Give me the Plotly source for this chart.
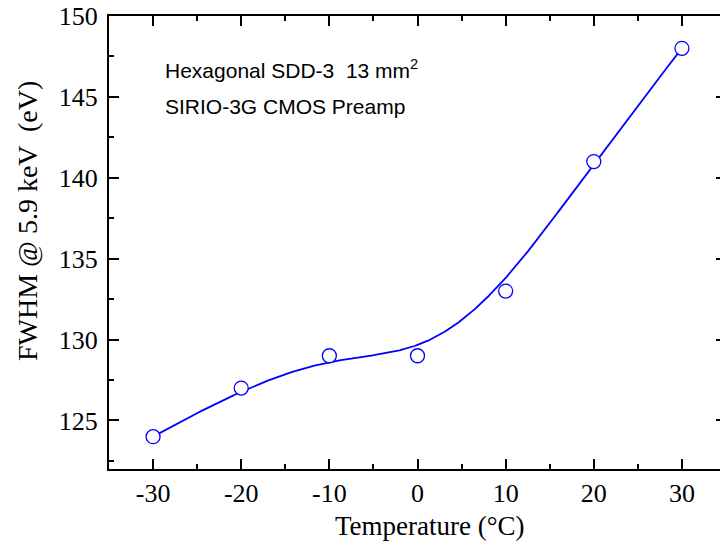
import numpy as np
import plotly.graph_objects as go

temperature = [-30, -20, -10, 0, 10, 20, 30]
fwhm = [124, 127, 129, 129, 133, 141, 148]
x_ticks = [-30, -20, -10, 0, 10, 20, 30]
y_ticks = [125, 130, 135, 140, 145, 150]


def bspline(px, py, n=400, k=3):
    P = np.column_stack([px, py]).astype(float)
    m = len(P)
    knots = np.concatenate([[0.0] * (k + 1), np.arange(1, m - k, dtype=float), [float(m - k)] * (k + 1)])
    t = np.linspace(0, m - k, n)
    t[-1] -= 1e-9

    def basis(i, p, tt):
        if p == 0:
            return np.where((knots[i] <= tt) & (tt < knots[i + 1]), 1.0, 0.0)
        out = np.zeros_like(tt)
        d1 = knots[i + p] - knots[i]
        d2 = knots[i + p + 1] - knots[i + 1]
        if d1 > 0:
            out += (tt - knots[i]) / d1 * basis(i, p - 1, tt)
        if d2 > 0:
            out += (knots[i + p + 1] - tt) / d2 * basis(i + 1, p - 1, tt)
        return out

    B = np.column_stack([basis(i, k, t) for i in range(m)])
    C = B @ P
    return C[:, 0], C[:, 1]


cx, cy = bspline(temperature, fwhm)

fig = go.Figure()
fig.add_trace(go.Scatter(x=cx, y=cy, mode="lines",
                         line=dict(color="#0000FF", width=1.8), showlegend=False,
                         hoverinfo="skip"))
fig.add_trace(go.Scatter(x=temperature, y=fwhm, mode="markers",
                         marker=dict(symbol="circle", size=14, color="white",
                                     line=dict(color="#0000FF", width=1.3)),
                         showlegend=False))

serif = "Liberation Serif, Times New Roman, serif"
tick_font = dict(family=serif, size=26, color="black")
sans = dict(family="Liberation Sans, Arial, sans-serif", size=21, color="black")

W, H = 726, 548
L, T, B = 109, 16, 79
PW, PH = W - L, H - T - B


def px(xp):
    return (xp - L) / PW


def py(yp):
    return (H - B - yp) / PH


fig.update_layout(
    width=W, height=H,
    margin=dict(l=L, r=0, t=T, b=B),
    plot_bgcolor="white", paper_bgcolor="white",
    font=tick_font,
    xaxis=dict(range=[-35, 35], tickvals=x_ticks, ticktext=[str(v) for v in x_ticks],
               showline=True, linecolor="black", linewidth=2, mirror="ticks",
               ticks="inside", ticklen=10, tickwidth=1.5, tickcolor="black",
               minor=dict(ticks="inside", ticklen=5, tickwidth=1.5, dtick=5, tick0=0, tickcolor="black"),
               showgrid=False, zeroline=False, automargin=False,
               tickfont=tick_font, ticklabelstandoff=0),
    yaxis=dict(range=[122, 150], tickvals=y_ticks, ticktext=[str(v) for v in y_ticks],
               showline=True, linecolor="black", linewidth=2, mirror="ticks",
               ticks="inside", ticklen=10, tickwidth=1.5, tickcolor="black",
               minor=dict(ticks="inside", ticklen=5, tickwidth=1.5, dtick=2.5, tick0=0, tickcolor="black"),
               showgrid=False, zeroline=False, automargin=False,
               tickfont=tick_font, ticklabelstandoff=4),
    annotations=[
        dict(text="Temperature (°C)", xref="paper", yref="paper",
             x=px(430), y=py(526), xanchor="center", yanchor="middle",
             showarrow=False, font=dict(family=serif, size=27, color="black")),
        dict(text="FWHM @ 5.9 keV  (eV)", xref="paper", yref="paper",
             x=px(27), y=py(221), xanchor="center", yanchor="middle", textangle=-90,
             showarrow=False, font=dict(family=serif, size=28, color="black")),
        dict(text="Hexagonal SDD-3  13 mm<sup>2</sup>", xref="paper", yref="paper",
             x=px(163), y=py(69), xanchor="left", yanchor="middle",
             showarrow=False, font=sans),
        dict(text="SIRIO-3G CMOS Preamp", xref="paper", yref="paper",
             x=px(163), y=py(106), xanchor="left", yanchor="middle",
             showarrow=False, font=sans),
    ],
)

fig.write_html("out.html", config={"displayModeBar": False},
               post_script="document.body.style.margin='0';document.body.style.overflow='hidden';")
